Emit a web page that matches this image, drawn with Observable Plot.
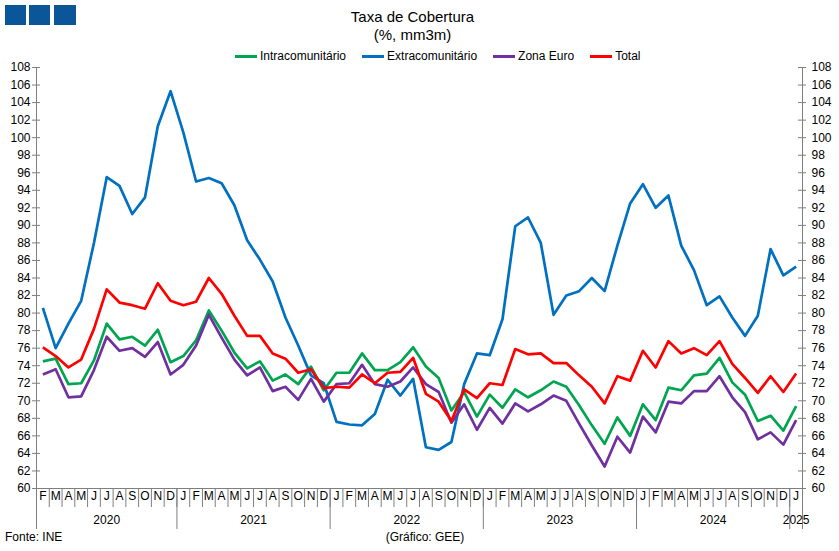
<!DOCTYPE html>
<html>
<head>
<meta charset="utf-8">
<script src="https://cdn.jsdelivr.net/npm/d3@7"></script>
<script src="https://cdn.jsdelivr.net/npm/@observablehq/plot@0.6"></script>
<style>
  body { margin: 0; background: #fff; font-family: "Liberation Sans", Arial, sans-serif; color: #000; }
  #wrap { position: relative; width: 839px; height: 551px; overflow: hidden; }
  #chart { position: absolute; left: 0; top: 0; }
  .logo { position: absolute; top: 5px; width: 21px; height: 20px; background: #0b5699; }
  #title { position: absolute; left: 0; top: 8px; width: 825px; text-align: center; font-size: 15px; line-height: 18px; }
  #legend { position: absolute; left: 235px; top: 49px; display: flex; gap: 16px; font-size: 12px; line-height: 14px; white-space: nowrap; }
  #legend .item { display: flex; align-items: center; }
  #legend .sw { display: inline-block; width: 22px; height: 3px; margin-right: 3px; }
  .cap { position: absolute; top: 530px; font-size: 12px; line-height: 14px; }
</style>
</head>
<body>
<div id="wrap">
  <div id="chart"></div>
  <div class="logo" style="left:5px"></div>
  <div class="logo" style="left:29px"></div>
  <div class="logo" style="left:54px;width:22px"></div>
  <div id="title">Taxa de Cobertura<br>(%, mm3m)</div>
  <div id="legend"></div>
  <div class="cap" style="left:5px">Fonte: INE</div>
  <div class="cap" style="left:0;width:850px;text-align:center">(Gráfico: GEE)</div>
</div>
<script>
// ---- Data (monthly, Feb 2020 – Jan 2025) ----
const months = [];
for (let y = 2020; y <= 2025; y++) for (let m = 1; m <= 12; m++) {
  if ((y === 2020 && m < 2) || (y === 2025 && m > 1)) continue;
  months.push(`${y}-${String(m).padStart(2, "0")}`);
}
const monthLetters = ["J","F","M","A","M","J","J","A","S","O","N","D"];

const intracomunitario = [
  74.5, 74.8, 71.9, 72.0, 74.6, 78.8, 77.0, 77.3, 76.3, 78.1, 74.4,
  75.1, 76.9, 80.3, 78.0, 75.5, 73.7, 74.5, 72.3, 73.0, 71.9,
  73.9, 71.2, 73.2, 73.2, 75.4, 73.5, 73.5, 74.4, 76.1, 73.9,
  72.6, 68.9, 71.0, 68.2, 70.7, 69.2, 71.3, 70.4, 71.2, 72.2,
  71.6, 69.5, 67.2, 65.1, 68.1, 66.0, 69.6, 67.8, 71.5, 71.2,
  72.9, 73.1, 74.9, 72.1, 70.7, 67.7, 68.3, 66.6, 69.4
];
const extracomunitario = [
  80.6, 76.0, 78.8, 81.4, 88.0, 95.5, 94.5, 91.3, 93.2, 101.3, 105.3,
  100.6, 95.0, 95.4, 94.8, 92.3, 88.3, 86.1, 83.6, 79.5, 76.3,
  72.9, 72.0, 67.6, 67.3, 67.2, 68.5, 72.4, 70.6, 72.5, 64.7,
  64.4, 65.3, 71.9, 75.4, 75.2, 79.3, 89.9, 90.9, 88.0, 79.8,
  82.0, 82.5, 84.0, 82.5, 87.7, 92.5, 94.7, 92.0, 93.4, 87.7,
  84.9, 80.9, 81.9, 79.5, 77.4, 79.7, 87.3, 84.3, 85.3
];
const zonaEuro = [
  73.0, 73.6, 70.4, 70.5, 73.5, 77.3, 75.7, 76.0, 75.0, 76.7, 73.0,
  74.1, 76.3, 79.8, 77.2, 74.7, 72.9, 73.8, 71.1, 71.6, 70.1,
  72.5, 69.9, 71.9, 72.0, 74.1, 71.9, 71.6, 72.2, 73.8, 71.9,
  71.0, 67.5, 69.6, 66.7, 69.2, 67.4, 69.7, 68.8, 69.6, 70.6,
  70.0, 67.4, 64.9, 62.5, 65.9, 64.1, 68.2, 66.4, 69.9, 69.7,
  71.1, 71.1, 72.8, 70.4, 68.7, 65.6, 66.4, 65.0, 67.8
];
const total = [
  76.1, 75.1, 73.8, 74.7, 78.2, 82.7, 81.2, 80.9, 80.5, 83.4, 81.4,
  80.9, 81.3, 84.0, 82.2, 79.7, 77.4, 77.4, 75.4, 74.8, 73.2,
  73.6, 71.45, 71.6, 71.5, 73.0, 72.0, 73.2, 73.3, 74.9, 70.8,
  69.9, 67.7, 71.3, 70.3, 72.0, 71.8, 75.9, 75.3, 75.4, 74.3,
  74.3, 72.9, 71.6, 69.7, 72.8, 72.3, 75.7, 73.8, 76.8, 75.4,
  76.0, 75.2, 76.8, 74.2, 72.6, 70.9, 72.8, 71.0, 73.1
];

const seriesNames = ["Intracomunitário", "Extracomunitário", "Zona Euro", "Total"];
const seriesColors = ["#00a550", "#0070c0", "#7030a0", "#ff0000"];
const seriesValues = [intracomunitario, extracomunitario, zonaEuro, total];
const yTicks = d3.range(60, 109, 2);

// ---- Derived tables ----
const rows = [];
seriesNames.forEach((name, s) => months.forEach((m, i) => rows.push({series: name, i, month: m, value: seriesValues[s][i]})));
const monthIdx = months.map((m, i) => i);
const monthBounds = d3.range(1, months.length);
const yearStarts = monthIdx.filter(i => i > 0 && months[i].endsWith("-01"));
const years = d3.groups(monthIdx, i => months[i].slice(0, 4)).map(([y, idx]) => ({year: y, c: (idx[0] + idx[idx.length - 1] + 1) / 2}));

const W = 839, H = 551, mt = 67, mb = 63, ml = 36, mr = 37;
const plotW = W - ml - mr, plotH = H - mt - mb;
const axisColor = "#7f7f7f";

const chart = Plot.plot({
  width: W, height: H,
  marginTop: mt, marginBottom: mb, marginLeft: ml, marginRight: mr,
  style: {fontFamily: "'Liberation Sans', Arial, sans-serif", fontSize: "12px", background: "transparent", color: "#000"},
  x: {domain: [0, months.length], axis: null},
  y: {domain: [60, 108], axis: null},
  color: {domain: seriesNames, range: seriesColors},
  marks: [
    // axis frame lines
    Plot.ruleY([60], {stroke: axisColor}),
    Plot.ruleX([0, months.length], {stroke: axisColor, insetBottom: -41}),
    // month separators
    Plot.ruleX(monthBounds, {x: d => d, stroke: axisColor, insetTop: plotH, insetBottom: -19}),
    // year separators
    Plot.ruleX(yearStarts, {x: d => d, stroke: axisColor, insetTop: plotH, insetBottom: -41}),
    // y tick marks
    Plot.tickY(yTicks, {y: d => d, stroke: axisColor, insetLeft: -4, insetRight: plotW - 4}),
    Plot.tickY(yTicks, {y: d => d, stroke: axisColor, insetLeft: plotW - 4, insetRight: -4}),
    // y labels
    Plot.axisY({anchor: "left", ticks: yTicks, tickSize: 0, tickPadding: 6, label: null, fontSize: 12}),
    Plot.axisY({anchor: "right", ticks: yTicks, tickSize: 0, tickPadding: 9, label: null, fontSize: 12}),
    // month letters
    Plot.text(monthIdx, {x: i => i + 0.5, text: i => monthLetters[+months[i].slice(5) - 1], frameAnchor: "bottom", dy: 11, fontSize: 12}),
    // year labels
    Plot.text(years, {x: "c", text: "year", frameAnchor: "bottom", dy: 35, fontSize: 12}),
    // series
    Plot.line(rows, {x: d => d.i + 0.5, y: "value", z: "series", stroke: "series", strokeWidth: 2.7, strokeLinejoin: "round", strokeLinecap: "butt"})
  ]
});
document.getElementById("chart").appendChild(chart);

// legend
const leg = document.getElementById("legend");
seriesNames.forEach((n, k) => {
  const it = document.createElement("div");
  it.className = "item";
  it.innerHTML = `<span class="sw" style="background:${seriesColors[k]}"></span><span>${n}</span>`;
  leg.appendChild(it);
});
</script>
</body>
</html>
